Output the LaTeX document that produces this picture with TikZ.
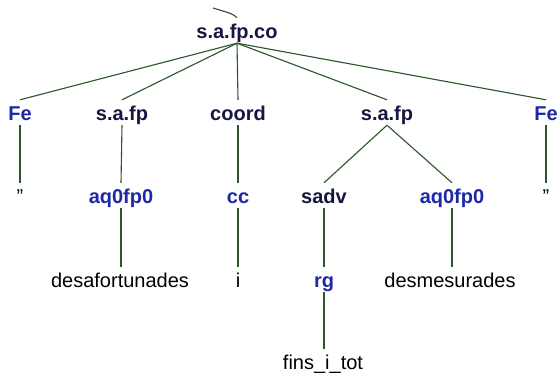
\documentclass[tikz,border=0pt]{standalone}
\usepackage{fontspec}
\setmainfont{Liberation Sans}
\definecolor{phr}{RGB}{22,22,64}
\definecolor{pos}{RGB}{28,40,165}
\definecolor{edge}{RGB}{42,86,42}
\tikzset{
  lbl/.style={anchor=base, text height=15pt, text depth=0pt, inner xsep=0pt, inner ysep=5pt, font=\fontsize{20}{22}\selectfont},
  phrase/.style={lbl, text=phr, font=\fontsize{20}{22}\selectfont\bfseries},
  tag/.style={lbl, text=pos, font=\fontsize{20}{22}\selectfont\bfseries},
  word/.style={lbl, text=black},
  branch/.style={draw=edge, line width=1.1pt}
}
\begin{document}
\begin{tikzpicture}[x=1pt,y=1pt]
\useasboundingbox (0,0) rectangle (559,376);
\fill[white] (0,0) rectangle (559,376);
% level 1
\node[phrase] (root) at (237,338) {s.a.fp.co};
\coordinate (stub) at (213,368);
% level 2
\node[tag] (fe1) at (20,256) {Fe};
\node[phrase] (saf1) at (122,256) {s.a.fp};
\node[phrase] (coord) at (238,256) {coord};
\node[phrase] (saf2) at (387,256) {s.a.fp};
\node[tag] (fe2) at (546,256) {Fe};
% level 3
\node[word] (q1) at (20,173) {\symbol{34}};
\node[tag] (aq1) at (121,173) {aq0fp0};
\node[tag] (cc) at (238,173) {cc};
\node[phrase] (sadv) at (324,173) {sadv};
\node[tag] (aq2) at (452,173) {aq0fp0};
\node[word] (q2) at (546,173) {\symbol{34}};
% level 4
\node[word] (w1) at (120,89) {desafortunades};
\node[word] (w2) at (238,89) {i};
\node[tag] (rg) at (324,89) {rg};
\node[word] (w3) at (450,89) {desmesurades};
% level 5
\node[word] (w4) at (323,7) {fins\_i\_tot};
% edges
\draw[branch] (stub) .. controls (233,362) .. (root.north);
\foreach \c in {fe1,saf1,coord,saf2,fe2}
  \draw[branch] (root.south) -- (\c.north);
\draw[branch] (fe1.south) -- (q1.north);
\draw[branch] (saf1.south) -- (aq1.north);
\draw[branch] (coord.south) -- (cc.north);
\draw[branch] (saf2.south) -- (sadv.north);
\draw[branch] (saf2.south) -- (aq2.north);
\draw[branch] (fe2.south) -- (q2.north);
\draw[branch] (aq1.south) -- (aq1.south |- w1.north);
\draw[branch] (cc.south) -- (w2.north);
\draw[branch] (sadv.south) -- (rg.north);
\draw[branch] (aq2.south) -- (aq2.south |- w3.north);
\draw[branch] (rg.south) -- (rg.south |- w4.north);
\end{tikzpicture}
\end{document}
